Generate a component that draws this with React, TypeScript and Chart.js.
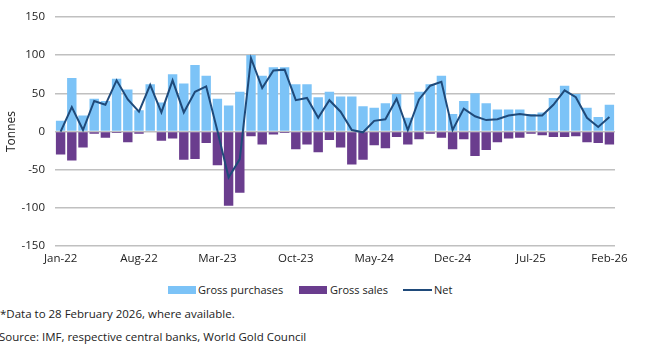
import React, { useEffect, useRef } from "react";
import { Chart, registerables } from "chart.js";

Chart.register(...registerables);

const months = [
  "Jan-22", "Feb-22", "Mar-22", "Apr-22", "May-22", "Jun-22", "Jul-22", "Aug-22", "Sep-22", "Oct-22", "Nov-22", "Dec-22",
  "Jan-23", "Feb-23", "Mar-23", "Apr-23", "May-23", "Jun-23", "Jul-23", "Aug-23", "Sep-23", "Oct-23", "Nov-23", "Dec-23",
  "Jan-24", "Feb-24", "Mar-24", "Apr-24", "May-24", "Jun-24", "Jul-24", "Aug-24", "Sep-24", "Oct-24", "Nov-24", "Dec-24",
  "Jan-25", "Feb-25", "Mar-25", "Apr-25", "May-25", "Jun-25", "Jul-25", "Aug-25", "Sep-25", "Oct-25", "Nov-25", "Dec-25",
  "Jan-26", "Feb-26",
];

const grossPurchases = [
  14, 70, 21, 43, 40, 69, 55, 28, 62, 38, 75, 63,
  87, 73, 43, 34, 52, 100, 73, 84, 84, 62, 62, 45,
  52, 46, 46, 33, 31, 37, 49, 18, 52, 62, 73, 23,
  40, 50, 37, 29, 29, 29, 23, 25, 44, 60, 49, 31,
  19, 35,
];

const grossSales = [
  -30, -38, -21, -3, -8, -2, -14, -3, -1, -12, -9, -37,
  -36, -15, -44, -97, -80, -6, -17, -4, -2, -23, -17, -27,
  -11, -21, -43, -37, -18, -22, -7, -17, -10, -3, -8, -23,
  -10, -32, -24, -14, -9, -8, -3, -5, -7, -7, -6, -14,
  -15, -17,
];

const net = [
  0, 32, 2, 40, 35, 67, 42, 26, 61, 25, 67, 25,
  52, 59, 1, -60, -36, 96, 57, 80, 81, 41, 44, 18,
  41, 26, 2, -1, 14, 16, 43, 2, 42, 60, 65, 2,
  30, 20, 15, 16, 21, 23, 21, 21, 35, 54, 45, 18,
  6, 19,
];

const yMin = -150;
const yMax = 150;
const yStep = 50;
const labelEvery = 7;

const BLUE = "#7cc3f7";
const PURPLE = "#6a3d8e";
const NAVY = "#1f4a7a";
const TEXT = "#222222";
const GRID = "#c0c0c0";
const FONT = "'Open Sans', 'Noto Sans', sans-serif";

export default function App() {
  const ref = useRef<HTMLCanvasElement>(null);

  useEffect(() => {
    if (!ref.current) return;
    const tickFont = { family: FONT, size: 11.5 };
    const chart = new Chart(ref.current, {
      data: {
        labels: months,
        datasets: [
          {
            type: "line",
            label: "Net",
            data: net,
            borderColor: NAVY,
            backgroundColor: NAVY,
            borderWidth: 2,
            pointRadius: 0,
            tension: 0,
            order: 0,
          },
          {
            type: "bar",
            label: "Gross purchases",
            data: grossPurchases,
            backgroundColor: BLUE,
            categoryPercentage: 1,
            barPercentage: 0.84,
            order: 2,
          },
          {
            type: "bar",
            label: "Gross sales",
            data: grossSales,
            backgroundColor: PURPLE,
            categoryPercentage: 1,
            barPercentage: 0.84,
            order: 1,
          },
        ],
      } as any,
      options: {
        animation: false,
        responsive: false,
        maintainAspectRatio: false,
        layout: { padding: { left: 0, right: 47, top: 15, bottom: 0 } },
        plugins: {
          legend: { display: false },
          tooltip: { enabled: false },
        },
        scales: {
          x: {
            stacked: true,
            offset: true,
            grid: { display: false, drawTicks: false },
            border: { display: false },
            ticks: {
              autoSkip: false,
              maxRotation: 0,
              minRotation: 0,
              padding: 6,
              font: tickFont,
              color: TEXT,
              callback: (_v: any, i: number) => (i % labelEvery === 0 ? months[i] : ""),
            },
          },
          y: {
            min: yMin,
            max: yMax,
            grid: { color: GRID, lineWidth: 1.5, drawTicks: false },
            border: { display: false },
            ticks: { stepSize: yStep, padding: 10, font: tickFont, color: TEXT },
            title: {
              display: true,
              text: "Tonnes",
              font: { family: FONT, size: 12 },
              color: TEXT,
              padding: { top: 4, bottom: 0 },
            },
            afterFit: (s: any) => {
              s.width = 55;
            },
          },
        },
      } as any,
    });
    return () => chart.destroy();
  }, []);

  const textStyle: React.CSSProperties = {
    position: "absolute",
    fontFamily: FONT,
    fontSize: 11.5,
    lineHeight: "16px",
    color: TEXT,
    whiteSpace: "nowrap",
  };
  const legendText: React.CSSProperties = { ...textStyle, fontSize: 11 };

  return (
    <div
      style={{
        position: "absolute",
        left: 0,
        top: 0,
        width: 662,
        height: 349,
        background: "#fff",
        overflow: "hidden",
      }}
    >
      <canvas ref={ref} width={662} height={272} style={{ display: "block", width: 662, height: 272 }} />
      <div style={{ position: "absolute", left: 168, top: 286, width: 28, height: 8, background: BLUE }} />
      <div style={{ ...legendText, left: 198, top: 282 }}>Gross purchases</div>
      <div style={{ position: "absolute", left: 299, top: 286, width: 28, height: 8, background: PURPLE }} />
      <div style={{ ...legendText, left: 330, top: 282 }}>Gross sales</div>
      <div style={{ position: "absolute", left: 403, top: 289, width: 29, height: 2, background: NAVY }} />
      <div style={{ ...legendText, left: 434, top: 282 }}>Net</div>
      <div style={{ ...textStyle, left: 0, top: 306 }}>*Data to 28 February 2026, where available.</div>
      <div style={{ ...textStyle, left: -1, top: 329 }}>Source: IMF, respective central banks, World Gold Council</div>
    </div>
  );
}
